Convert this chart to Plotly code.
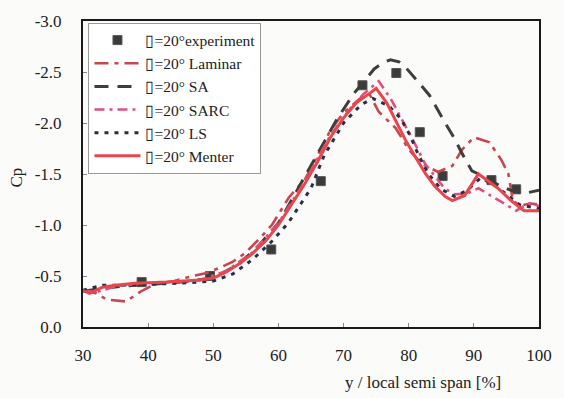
import plotly.graph_objects as go

# ---------------- data ----------------
exp_x = [39.0, 49.5, 58.9, 66.5, 72.9, 78.1, 81.7, 85.2, 92.7, 96.5]
exp_cp = [-0.44, -0.50, -0.76, -1.43, -2.37, -2.49, -1.91, -1.48, -1.44, -1.35]

lam_x = [30, 32, 33.6, 36.6, 38.9, 41, 44, 46.8, 49, 51, 53, 55, 57, 59, 61.6, 64.1, 66, 68, 70,
         72.5, 74, 75.4, 78, 80, 82, 84.5, 86.7, 88.2, 90, 92.4, 94.2, 95.3, 96, 97, 98.7, 100]
lam_cp = [-0.36, -0.33, -0.27, -0.25, -0.35, -0.42, -0.45, -0.50, -0.53, -0.58, -0.64, -0.73, -0.86,
          -1.00, -1.27, -1.45, -1.68, -1.93, -2.10, -2.24, -2.28, -2.11, -1.95, -1.74, -1.60, -1.52,
          -1.58, -1.74, -1.86, -1.81, -1.64, -1.50, -1.24, -1.19, -1.21, -1.20]

sa_x = [30, 33, 36, 40, 45, 50, 54, 57, 60, 61.1, 63.4, 66.1, 69.1, 71.6, 72.9, 74.7, 76, 77.2,
        78.5, 79.6, 81.1, 83.2, 85.6, 87, 88.2, 89.7, 91.7, 93.8, 95.7, 97.7, 100]
sa_cp = [-0.35, -0.38, -0.40, -0.42, -0.44, -0.48, -0.62, -0.80, -1.02, -1.14, -1.40, -1.72, -2.05,
         -2.29, -2.39, -2.53, -2.59, -2.62, -2.60, -2.54, -2.43, -2.27, -2.00, -1.85, -1.70, -1.53,
         -1.47, -1.39, -1.34, -1.31, -1.34]

sarc_x = [30, 32, 35, 38, 43, 48, 52, 56, 60, 64, 68, 71, 73, 75.4, 77.4, 79.6, 81, 82.5, 84.1,
          85.5, 87, 89, 90.7, 92, 93.1, 94.5, 95.3, 96.5, 98, 99, 100]
sarc_cp = [-0.36, -0.34, -0.40, -0.42, -0.44, -0.46, -0.55, -0.73, -1.02, -1.42, -1.88, -2.14, -2.28,
           -2.41, -2.22, -1.96, -1.79, -1.60, -1.47, -1.36, -1.30, -1.31, -1.36, -1.31, -1.27, -1.22,
           -1.19, -1.14, -1.20, -1.22, -1.18]

ls_x = [30, 33, 36, 40, 45, 50, 53, 56, 59, 61.5, 65, 67, 70, 72.7, 74.5, 76.9, 78.7, 80.2, 81.4,
        83, 85, 87, 89, 91, 93, 95, 97, 100]
ls_cp = [-0.36, -0.41, -0.41, -0.42, -0.43, -0.45, -0.52, -0.66, -0.84, -1.02, -1.36, -1.68, -2.00,
         -2.18, -2.24, -2.17, -2.05, -1.88, -1.70, -1.50, -1.35, -1.28, -1.34, -1.46, -1.40, -1.30,
         -1.20, -1.16]

men_x = [30, 31, 33, 35, 38, 43, 48, 50, 52, 54, 56, 58, 60, 62, 64, 66, 68, 70, 72, 74, 75, 76.6,
         78.1, 79.6, 81.1, 82.6, 84, 85.6, 86.7, 88.6, 90.7, 92, 93.7, 95.7, 97.7, 100]
men_cp = [-0.36, -0.33, -0.39, -0.41, -0.43, -0.44, -0.46, -0.48, -0.54, -0.62, -0.72, -0.84, -1.00,
          -1.20, -1.40, -1.62, -1.86, -2.05, -2.20, -2.29, -2.34, -2.20, -2.01, -1.82, -1.66, -1.50,
          -1.38, -1.28, -1.24, -1.29, -1.50, -1.44, -1.36, -1.24, -1.14, -1.14]

x_ticks = [30, 40, 50, 60, 70, 80, 90, 100]
y_ticks = [0.0, -0.5, -1.0, -1.5, -2.0, -2.5, -3.0]
y_ticktext = ["0.0", "-0.5", "-1.0", "-1.5", "-2.0", "-2.5", "-3.0"]

names = ["\u25af=20°experiment", "\u25af=20° Laminar", "\u25af=20° SA",
         "\u25af=20° SARC", "\u25af=20° LS", "\u25af=20° Menter"]

# ---------------- figure ----------------
SERIF = "Liberation Serif, Times New Roman, serif"
fig = go.Figure()

fig.add_trace(go.Scatter(x=exp_x, y=exp_cp, mode="markers", name=names[0],
                         marker=dict(symbol="square", size=9, color="#3b3b3b",
                                     line=dict(color="#555555", width=1))))
fig.add_trace(go.Scatter(x=lam_x, y=lam_cp, mode="lines", name=names[1],
                         line=dict(color="#c8464e", width=2.6, dash="14px,6px,4px,6px")))
fig.add_trace(go.Scatter(x=sa_x, y=sa_cp, mode="lines", name=names[2],
                         line=dict(color="#3f3f3a", width=3, dash="14px,9px")))
fig.add_trace(go.Scatter(x=sarc_x, y=sarc_cp, mode="lines", name=names[3],
                         line=dict(color="#e0507c", width=2.6, dash="10px,5px,3px,5px")))
fig.add_trace(go.Scatter(x=ls_x, y=ls_cp, mode="lines", name=names[4],
                         line=dict(color="#2c2c48", width=3, dash="4px,6px")))
fig.add_trace(go.Scatter(x=men_x, y=men_cp, mode="lines", name=names[5],
                         line=dict(color="#e8464c", width=3)))

fig.update_layout(
    width=564, height=398,
    margin=dict(l=83, r=15, t=13, b=71),
    paper_bgcolor="#fbfbf9",
    plot_bgcolor="#fbfbf9",
    font=dict(family=SERIF, size=17, color="#222222"),
    showlegend=True,
    legend=dict(x=0.012, y=0.995, xanchor="left", yanchor="top",
                bgcolor="#ffffff", bordercolor="#9a9a9a", borderwidth=1,
                font=dict(family=SERIF, size=15.5, color="#222222"),
                tracegroupgap=0, itemwidth=46),
    xaxis=dict(range=[30, 100], tickvals=x_ticks, ticktext=[str(v) for v in x_ticks],
               showgrid=False, zeroline=False, showline=True, linecolor="#1a1a1a",
               linewidth=2, mirror=True, ticks="inside", ticklen=4, tickcolor="#888888",
               ticklabelstandoff=12),
    yaxis=dict(range=[0, -3], tickvals=y_ticks, ticktext=y_ticktext,
               showgrid=False, zeroline=False, showline=True, linecolor="#1a1a1a",
               linewidth=2, mirror=True, ticks="inside", ticklen=4, tickcolor="#888888",
               ticklabelstandoff=16),
    annotations=[
        dict(text="Cp", xref="paper", yref="paper", x=-0.146, y=0.49, showarrow=False,
             xanchor="center", yanchor="middle",
             textangle=-90, font=dict(family=SERIF, size=17, color="#222222")),
        dict(text="y / local semi span [%]", xref="paper", yref="paper", x=0.745, y=-0.182,
             showarrow=False, xanchor="center", yanchor="middle",
             font=dict(family=SERIF, size=17, color="#222222")),
    ],
)

fig.write_html("out.html")
